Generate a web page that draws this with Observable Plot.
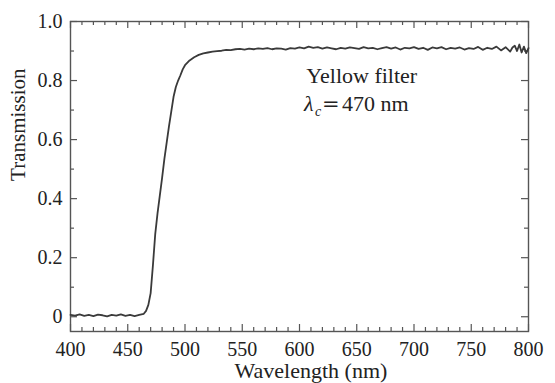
<!DOCTYPE html>
<html>
<head>
<meta charset="utf-8">
<script src="https://cdn.jsdelivr.net/npm/d3@7"></script>
<script src="https://cdn.jsdelivr.net/npm/@observablehq/plot@0.6"></script>
<style>
  html, body { margin: 0; padding: 0; background: #fff; }
  #chart svg { font-family: "Liberation Serif", "Times New Roman", serif !important; }
</style>
</head>
<body>
<div id="chart"></div>
<script>
// Wavelength (nm)
const wavelength = [
  400,404,408,412,416,420,424,428,432,436,440,444,448,452,456,
  460,462,464,466,468,470,472,474,476,478,480,482,484,486,488,490,492,494,496,498,500,
  504,508,512,516,520,524,528,532,536,540,544,548,552,556,560,564,568,572,576,580,
  584,588,592,596,600,604,608,612,616,620,624,628,632,636,640,644,648,652,656,660,
  664,668,672,676,680,684,688,692,696,700,704,708,712,716,720,724,728,732,736,740,
  744,748,752,756,760,764,768,772,776,780,784,786,788,790,792,794,796,798,800
];
// Transmission
const transmission = [
  0.006,0.004,0.008,0.003,0.006,0.002,0.007,0.005,0.001,0.006,0.004,0.008,0.003,0.006,0.002,
  0.006,0.008,0.010,0.020,0.040,0.080,0.175,0.280,0.350,0.410,0.470,0.535,0.590,0.645,0.695,0.745,0.778,0.800,0.818,0.838,0.852,
  0.868,0.879,0.887,0.892,0.895,0.898,0.900,0.901,0.904,0.903,0.906,0.907,0.905,0.908,0.906,0.909,0.907,0.910,0.906,0.909,
  0.908,0.905,0.910,0.908,0.912,0.909,0.915,0.911,0.913,0.908,0.912,0.909,0.906,0.911,0.908,0.912,0.910,0.907,0.913,0.909,
  0.911,0.906,0.910,0.913,0.908,0.912,0.905,0.911,0.909,0.913,0.907,0.911,0.904,0.912,0.909,0.913,0.906,0.911,0.908,0.912,
  0.905,0.910,0.907,0.914,0.904,0.911,0.907,0.915,0.902,0.913,0.898,0.912,0.918,0.900,0.922,0.895,0.915,0.893,0.910
];
const xMajorTicks = [400,450,500,550,600,650,700,750,800];
const xMinorTicks = [410,420,430,440,460,470,480,490,510,520,530,540,560,570,580,590,610,620,630,640,660,670,680,690,710,720,730,740,760,770,780,790];
const yMajorTicks = [0,0.2,0.4,0.6,0.8,1.0];
const yMinorTicks = [0.1,0.3,0.5,0.7,0.9];
const xLabel = "Wavelength (nm)";
const yLabel = "Transmission";
const noteLine1 = "Yellow filter";
const noteLambda = "λ";
const noteSub = "c";
const noteEq = "=";
const noteValue = "470 nm";

const data = wavelength.map((w, i) => ({w, t: transmission[i]}));

const W = 555, H = 383;
const mL = 70, mR = 27, mT = 21, mB = 52;
const fw = W - mL - mR, fh = H - mT - mB;
const axisColor = "#555";
const majorLen = 7, minorLen = 4;
const serif = "'Liberation Serif', 'Times New Roman', serif";

const chart = Plot.plot({
  width: W,
  height: H,
  marginLeft: mL,
  marginRight: mR,
  marginTop: mT,
  marginBottom: mB,
  style: "font-family: 'Liberation Serif', serif; color: #222; background: #fff;",
  x: {domain: [400, 800]},
  y: {domain: [-0.05, 1.0]},
  marks: [
    // ticks (inward, mirrored)
    Plot.tickX(xMajorTicks, {x: d => d, insetTop: fh - majorLen, stroke: axisColor, strokeWidth: 1.2}),
    Plot.tickX(xMajorTicks, {x: d => d, insetBottom: fh - majorLen, stroke: axisColor, strokeWidth: 1.2}),
    Plot.tickX(xMinorTicks, {x: d => d, insetTop: fh - minorLen, stroke: axisColor, strokeWidth: 1.2}),
    Plot.tickX(xMinorTicks, {x: d => d, insetBottom: fh - minorLen, stroke: axisColor, strokeWidth: 1.2}),
    Plot.tickY(yMajorTicks, {y: d => d, insetRight: fw - majorLen, stroke: axisColor, strokeWidth: 1.2}),
    Plot.tickY(yMajorTicks, {y: d => d, insetLeft: fw - majorLen, stroke: axisColor, strokeWidth: 1.2}),
    Plot.tickY(yMinorTicks, {y: d => d, insetRight: fw - minorLen, stroke: axisColor, strokeWidth: 1.2}),
    Plot.tickY(yMinorTicks, {y: d => d, insetLeft: fw - minorLen, stroke: axisColor, strokeWidth: 1.2}),
    Plot.axisX({ticks: xMajorTicks, tickSize: 0, tickPadding: 10, fontSize: 20, fontFamily: serif, label: null, tickFormat: d => String(d)}),
    Plot.axisY({ticks: yMajorTicks, tickSize: 0, tickPadding: 8, fontSize: 20, fontFamily: serif, label: null, tickFormat: d => d === 0 ? "0" : d.toFixed(1)}),
    Plot.frame({stroke: axisColor, strokeWidth: 1.4}),
    Plot.line(data, {x: "w", y: "t", stroke: "#3a3a3a", strokeWidth: 1.8, strokeLinejoin: "round"}),
    // axis titles
    Plot.text([xLabel], {x: [610], frameAnchor: "bottom", lineAnchor: "middle", dy: 39, text: d => d, fontSize: 22, fontFamily: serif, fill: "#222"}),
    Plot.text([yLabel], {y: [0.46], frameAnchor: "left", lineAnchor: "middle", dx: -52, rotate: -90, text: d => d, fontSize: 21, fontFamily: serif, fill: "#222"}),
    // annotation
    Plot.text([noteLine1], {x: [606], y: [0.814], text: d => d, textAnchor: "start", fontSize: 22, fontFamily: serif, fill: "#222"}),
    Plot.text([noteLambda], {x: [604], y: [0.72], text: d => d, textAnchor: "start", fontSize: 22, fontStyle: "italic", fontFamily: serif, fill: "#222"}),
    Plot.text([noteSub], {x: [604], y: [0.72], dx: 11, dy: 7, text: d => d, textAnchor: "start", fontSize: 14, fontStyle: "italic", fontFamily: serif, fill: "#222"}),
    Plot.text([noteEq], {x: [604], y: [0.72], dx: 18, text: d => d, textAnchor: "start", fontSize: 21, fontFamily: "'DejaVu Serif', serif", fill: "#222"}),
    Plot.text([noteValue], {x: [604], y: [0.72], dx: 38, text: d => d, textAnchor: "start", fontSize: 22, fontFamily: serif, fill: "#222"})
  ]
});
document.getElementById("chart").appendChild(chart);
</script>
</body>
</html>
